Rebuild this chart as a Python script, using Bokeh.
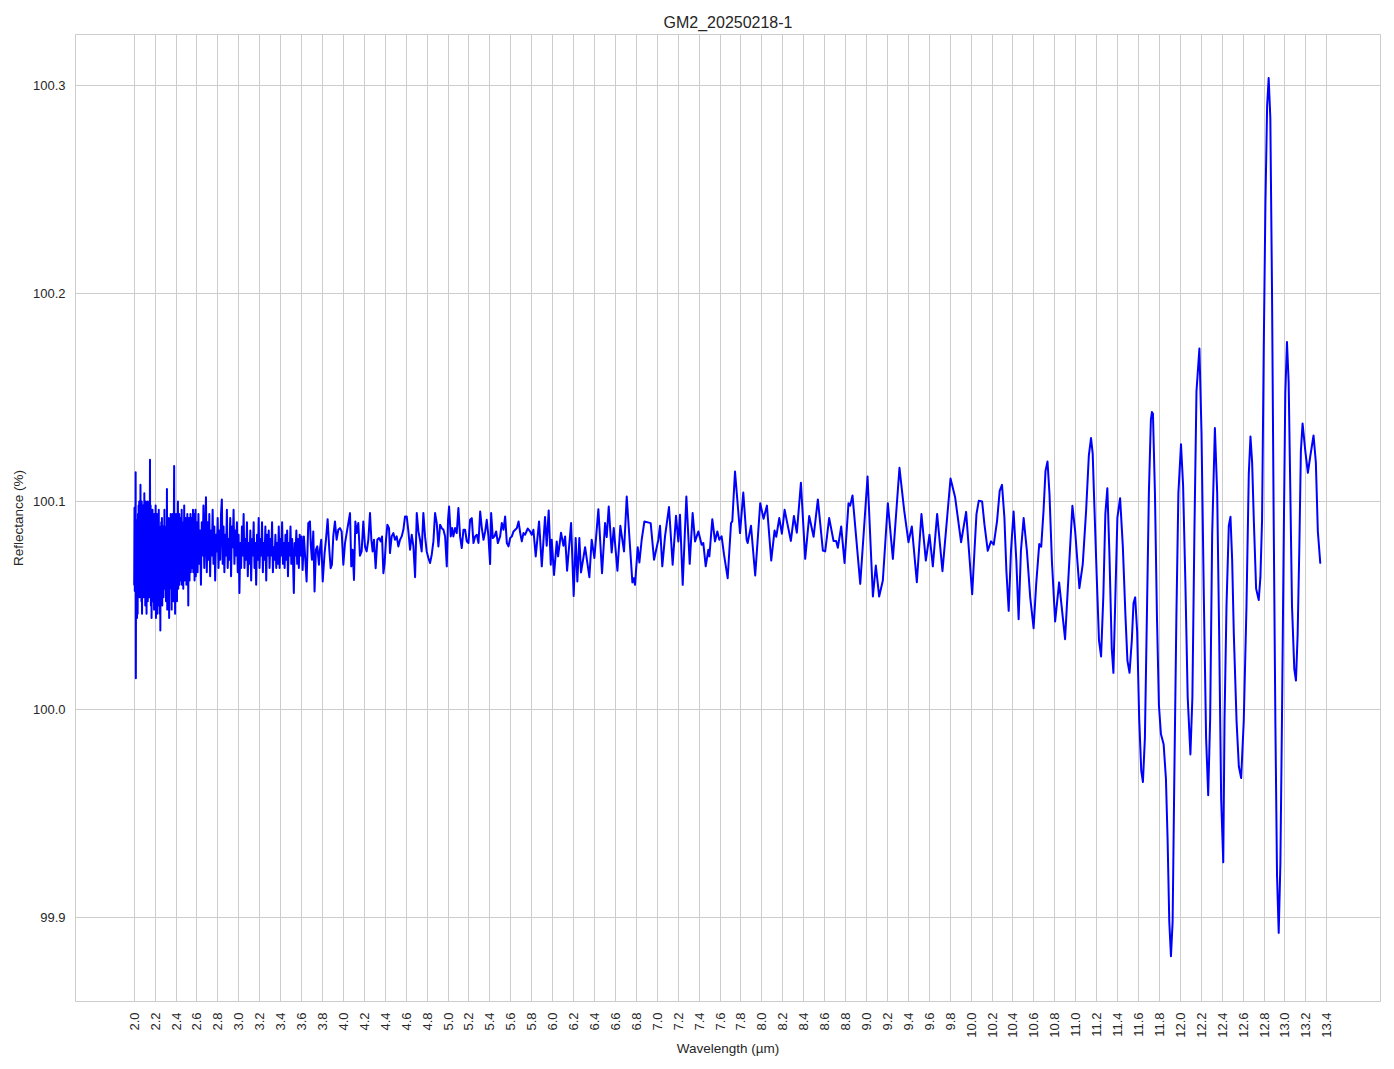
import numpy as np
from bokeh.plotting import figure
from bokeh.models import Range1d, FixedTicker, PrintfTickFormatter
from bokeh.embed import file_html
from bokeh.resources import INLINE

TITLE = "GM2_20250218-1"
X_LABEL = "Wavelength (µm)"
Y_LABEL = "Reflectance (%)"

x_ticks = [2.0, 2.2, 2.4, 2.6, 2.8, 3.0, 3.2, 3.4, 3.6, 3.8, 4.0, 4.2, 4.4, 4.6, 4.8,
           5.0, 5.2, 5.4, 5.6, 5.8, 6.0, 6.2, 6.4, 6.6, 6.8, 7.0, 7.2, 7.4, 7.6, 7.8,
           8.0, 8.2, 8.4, 8.6, 8.8, 9.0, 9.2, 9.4, 9.6, 9.8, 10.0, 10.2, 10.4, 10.6,
           10.8, 11.0, 11.2, 11.4, 11.6, 11.8, 12.0, 12.2, 12.4, 12.6, 12.8, 13.0,
           13.2, 13.4]
y_ticks = [99.9, 100.0, 100.1, 100.2, 100.3]

# --- segment 1: dense noisy start (2.0 - 2.6 um)
wl_1 = [2.000, 2.003, 2.006, 2.009, 2.012, 2.014, 2.016, 2.018, 2.021, 2.024, 2.027, 2.030,
        2.033, 2.036, 2.039, 2.042, 2.045, 2.048, 2.051, 2.054, 2.057, 2.060, 2.063, 2.066,
        2.069, 2.072, 2.075, 2.078, 2.081, 2.085, 2.088, 2.091, 2.094, 2.097, 2.100, 2.103,
        2.106, 2.109, 2.112, 2.115, 2.118, 2.121, 2.124, 2.127, 2.130, 2.133, 2.136, 2.139,
        2.142, 2.145, 2.148, 2.151, 2.154, 2.157, 2.160, 2.163, 2.166, 2.169, 2.172, 2.175,
        2.178, 2.181, 2.184, 2.187, 2.190, 2.193, 2.196, 2.199, 2.202, 2.205, 2.208, 2.211,
        2.214, 2.217, 2.220, 2.223, 2.226, 2.229, 2.232, 2.235, 2.238, 2.241, 2.244, 2.247,
        2.250, 2.253, 2.256, 2.259, 2.262, 2.265, 2.268, 2.271, 2.274, 2.277, 2.280, 2.283,
        2.286, 2.289, 2.292, 2.295, 2.298, 2.301, 2.304, 2.307, 2.310, 2.313, 2.316, 2.319,
        2.322, 2.325, 2.328, 2.331, 2.334, 2.337, 2.340, 2.343, 2.346, 2.349, 2.352, 2.355,
        2.358, 2.361, 2.364, 2.367, 2.370, 2.373, 2.376, 2.379, 2.382, 2.385, 2.388, 2.391,
        2.394, 2.397, 2.400, 2.403, 2.406, 2.409, 2.412, 2.415, 2.418, 2.421, 2.424, 2.427,
        2.430, 2.433, 2.436, 2.439, 2.442, 2.445, 2.448, 2.451, 2.454, 2.457, 2.460, 2.463,
        2.466, 2.469, 2.472, 2.475, 2.478, 2.481, 2.484, 2.487, 2.490, 2.493, 2.496, 2.499,
        2.502, 2.505, 2.508, 2.511, 2.514, 2.517, 2.520, 2.523, 2.526, 2.529, 2.532, 2.535,
        2.538, 2.541, 2.544, 2.547, 2.550, 2.553, 2.556, 2.559, 2.562, 2.565, 2.568, 2.571,
        2.574, 2.577, 2.580, 2.583, 2.586, 2.589, 2.592, 2.595, 2.598]
rf_1 = [100.060, 100.097, 100.057, 100.090, 100.062, 100.114, 100.015, 100.075, 100.058, 100.091, 100.044, 100.080,
        100.046, 100.094, 100.062, 100.098, 100.060, 100.100, 100.054, 100.092, 100.064, 100.108, 100.058, 100.096,
        100.052, 100.100, 100.046, 100.090, 100.060, 100.098, 100.054, 100.092, 100.066, 100.104, 100.056, 100.094,
        100.050, 100.100, 100.060, 100.098, 100.046, 100.090, 100.062, 100.100, 100.052, 100.088, 100.058, 100.096,
        100.054, 100.100, 100.066, 100.120, 100.054, 100.098, 100.050, 100.092, 100.044, 100.088, 100.058, 100.096,
        100.052, 100.090, 100.062, 100.086, 100.048, 100.094, 100.056, 100.090, 100.064, 100.098, 100.044, 100.086,
        100.050, 100.094, 100.046, 100.085, 100.060, 100.092, 100.050, 100.096, 100.054, 100.088, 100.046, 100.084,
        100.038, 100.078, 100.058, 100.090, 100.062, 100.092, 100.050, 100.084, 100.066, 100.088, 100.054, 100.082,
        100.060, 100.096, 100.058, 100.088, 100.064, 100.076, 100.052, 100.084, 100.062, 100.106, 100.048, 100.088,
        100.064, 100.092, 100.060, 100.086, 100.044, 100.082, 100.062, 100.092, 100.066, 100.094, 100.058, 100.080,
        100.048, 100.086, 100.068, 100.094, 100.058, 100.088, 100.052, 100.090, 100.117, 100.062, 100.092, 100.046,
        100.084, 100.060, 100.094, 100.066, 100.090, 100.052, 100.084, 100.064, 100.100, 100.058, 100.088, 100.070,
        100.094, 100.060, 100.086, 100.066, 100.092, 100.062, 100.090, 100.072, 100.096, 100.060, 100.088, 100.068,
        100.084, 100.058, 100.090, 100.070, 100.098, 100.062, 100.086, 100.068, 100.092, 100.066, 100.084, 100.060,
        100.086, 100.072, 100.094, 100.064, 100.080, 100.050, 100.086, 100.068, 100.092, 100.062, 100.088, 100.074,
        100.094, 100.066, 100.086, 100.072, 100.092, 100.068, 100.084, 100.070, 100.096, 100.066, 100.086, 100.072,
        100.094, 100.062, 100.084, 100.070, 100.096, 100.064, 100.082, 100.070, 100.090]

# --- segment 2: 2.6 - 3.6 um
wl_2 = [2.606, 2.614, 2.622, 2.630, 2.638, 2.646, 2.654, 2.662, 2.670, 2.678, 2.686, 2.694,
        2.702, 2.710, 2.718, 2.726, 2.734, 2.742, 2.750, 2.758, 2.766, 2.774, 2.782, 2.790,
        2.798, 2.806, 2.814, 2.822, 2.830, 2.838, 2.846, 2.854, 2.862, 2.870, 2.878, 2.886,
        2.894, 2.902, 2.910, 2.918, 2.926, 2.934, 2.942, 2.950, 2.958, 2.966, 2.974, 2.982,
        2.990, 2.998, 3.006, 3.014, 3.022, 3.030, 3.038, 3.046, 3.054, 3.062, 3.070, 3.078,
        3.086, 3.094, 3.102, 3.110, 3.118, 3.126, 3.134, 3.142, 3.150, 3.158, 3.166, 3.174,
        3.182, 3.190, 3.198, 3.206, 3.214, 3.222, 3.230, 3.238, 3.246, 3.254, 3.262, 3.270,
        3.278, 3.286, 3.294, 3.302, 3.310, 3.318, 3.326, 3.334, 3.342, 3.350, 3.358, 3.366,
        3.374, 3.382, 3.390, 3.398, 3.406, 3.414, 3.422, 3.430, 3.438, 3.446, 3.454, 3.462,
        3.470, 3.478, 3.486, 3.494, 3.502, 3.510, 3.518, 3.526, 3.534, 3.542, 3.550, 3.558,
        3.566, 3.574, 3.582, 3.590]
rf_2 = [100.066, 100.094, 100.070, 100.086, 100.060, 100.090, 100.074, 100.098, 100.068, 100.084, 100.102, 100.066,
        100.090, 100.072, 100.094, 100.064, 100.086, 100.074, 100.096, 100.070, 100.088, 100.062, 100.084, 100.076,
        100.092, 100.068, 100.086, 100.072, 100.094, 100.101, 100.070, 100.088, 100.066, 100.084, 100.074, 100.096,
        100.068, 100.082, 100.072, 100.092, 100.064, 100.088, 100.078, 100.096, 100.070, 100.086, 100.074, 100.090,
        100.066, 100.084, 100.056, 100.080, 100.068, 100.088, 100.074, 100.094, 100.068, 100.082, 100.072, 100.090,
        100.064, 100.080, 100.070, 100.086, 100.062, 100.082, 100.074, 100.090, 100.068, 100.080, 100.060, 100.084,
        100.072, 100.092, 100.068, 100.082, 100.074, 100.090, 100.066, 100.080, 100.072, 100.088, 100.062, 100.084,
        100.074, 100.086, 100.068, 100.082, 100.074, 100.090, 100.066, 100.078, 100.072, 100.084, 100.068, 100.080,
        100.070, 100.088, 100.068, 100.082, 100.074, 100.090, 100.070, 100.080, 100.068, 100.084, 100.072, 100.086,
        100.064, 100.080, 100.074, 100.088, 100.070, 100.082, 100.072, 100.056, 100.080, 100.074, 100.086, 100.070,
        100.082, 100.068, 100.084, 100.074]

# --- segment 3: 3.6 - 5.73 um
wl_3 = [3.600, 3.610, 3.622, 3.632, 3.648, 3.664, 3.680, 3.689, 3.699, 3.712, 3.724, 3.737,
        3.750, 3.766, 3.775, 3.788, 3.802, 3.820, 3.833, 3.849, 3.865, 3.878, 3.890, 3.903,
        3.919, 3.935, 3.951, 3.967, 3.983, 3.999, 4.015, 4.031, 4.047, 4.063, 4.075, 4.088,
        4.101, 4.114, 4.126, 4.142, 4.158, 4.174, 4.190, 4.206, 4.222, 4.238, 4.254, 4.267,
        4.279, 4.292, 4.308, 4.324, 4.340, 4.356, 4.369, 4.382, 4.394, 4.407, 4.420, 4.436,
        4.445, 4.461, 4.477, 4.493, 4.509, 4.525, 4.541, 4.557, 4.573, 4.589, 4.605, 4.621,
        4.637, 4.653, 4.669, 4.685, 4.701, 4.717, 4.732, 4.748, 4.764, 4.780, 4.796, 4.812,
        4.828, 4.844, 4.860, 4.876, 4.892, 4.908, 4.924, 4.940, 4.956, 4.972, 4.988, 5.000,
        5.010, 5.026, 5.039, 5.051, 5.067, 5.083, 5.099, 5.115, 5.131, 5.147, 5.163, 5.179,
        5.195, 5.211, 5.227, 5.243, 5.259, 5.275, 5.291, 5.307, 5.323, 5.339, 5.355, 5.370,
        5.386, 5.402, 5.412, 5.428, 5.444, 5.460, 5.476, 5.498, 5.514, 5.530, 5.546, 5.562,
        5.578, 5.594, 5.610, 5.626, 5.642, 5.658, 5.674, 5.690, 5.705, 5.721]
rf_3 = [100.0832, 100.0671, 100.0832, 100.0752, 100.0615, 100.0896, 100.0904, 100.0784, 100.0720, 100.0856, 100.0567, 100.0768,
        100.0784, 100.0696, 100.0768, 100.0816, 100.0615, 100.0752, 100.0816, 100.0915, 100.0768, 100.0679, 100.0696, 100.0832,
        100.0904, 100.0816, 100.0864, 100.0872, 100.0856, 100.0696, 100.0800, 100.0848, 100.0896, 100.0944, 100.0688, 100.0768,
        100.0623, 100.0904, 100.0848, 100.0896, 100.0739, 100.0760, 100.0904, 100.0784, 100.0760, 100.0816, 100.0944, 100.0816,
        100.0760, 100.0816, 100.0679, 100.0816, 100.0824, 100.0808, 100.0832, 100.0655, 100.0704, 100.0816, 100.0888, 100.0872,
        100.0752, 100.0832, 100.0848, 100.0816, 100.0832, 100.0784, 100.0816, 100.0832, 100.0864, 100.0928, 100.0928, 100.0856,
        100.0768, 100.0840, 100.0784, 100.0636, 100.0944, 100.0856, 100.0816, 100.0760, 100.0944, 100.0832, 100.0760, 100.0728,
        100.0704, 100.0744, 100.0808, 100.0944, 100.0896, 100.0784, 100.0888, 100.0872, 100.0864, 100.0832, 100.0688, 100.0912,
        100.0976, 100.0832, 100.0872, 100.0832, 100.0872, 100.0848, 100.0968, 100.0832, 100.0776, 100.0864, 100.0864, 100.0808,
        100.0800, 100.0912, 100.0920, 100.0800, 100.0832, 100.0840, 100.0800, 100.0952, 100.0872, 100.0816, 100.0856, 100.0912,
        100.0832, 100.0699, 100.0944, 100.0824, 100.0832, 100.0856, 100.0800, 100.0832, 100.0896, 100.0864, 100.0928, 100.0800,
        100.0784, 100.0824, 100.0832, 100.0856, 100.0864, 100.0872, 100.0904, 100.0848, 100.0808, 100.0848]

# --- segment 4: 5.73 - 7.93 um
wl_4 = [5.736, 5.762, 5.784, 5.800, 5.816, 5.838, 5.870, 5.896, 5.927, 5.943, 5.962, 5.982,
        5.991, 6.013, 6.039, 6.052, 6.080, 6.103, 6.119, 6.138, 6.176, 6.201, 6.220, 6.236,
        6.255, 6.271, 6.310, 6.351, 6.373, 6.399, 6.437, 6.472, 6.501, 6.517, 6.536, 6.564,
        6.584, 6.619, 6.647, 6.682, 6.708, 6.762, 6.775, 6.787, 6.813, 6.829, 6.851, 6.877,
        6.937, 6.969, 7.010, 7.026, 7.048, 7.074, 7.112, 7.147, 7.179, 7.201, 7.217, 7.243,
        7.278, 7.310, 7.338, 7.361, 7.393, 7.424, 7.440, 7.463, 7.488, 7.498, 7.526, 7.552,
        7.574, 7.593, 7.615, 7.638, 7.673, 7.705, 7.717, 7.743, 7.791, 7.822, 7.854, 7.864,
        7.896]
rf_4 = [100.0840, 100.0870, 100.0856, 100.0840, 100.0864, 100.0736, 100.0904, 100.0688, 100.0925, 100.0787, 100.0957, 100.0696,
        100.0816, 100.0647, 100.0808, 100.0736, 100.0850, 100.0787, 100.0832, 100.0667, 100.0896, 100.0546, 100.0824, 100.0615,
        100.0824, 100.0659, 100.0780, 100.0636, 100.0816, 100.0728, 100.0963, 100.0655, 100.0896, 100.0829, 100.0976, 100.0755,
        100.0872, 100.0667, 100.0883, 100.0760, 100.1024, 100.0611, 100.0631, 100.0599, 100.0780, 100.0707, 100.0816, 100.0904,
        100.0896, 100.0720, 100.0816, 100.0883, 100.0688, 100.0832, 100.0973, 100.0696, 100.0931, 100.0808, 100.0936, 100.0599,
        100.1024, 100.0700, 100.0944, 100.0808, 100.0856, 100.0792, 100.0800, 100.0688, 100.0768, 100.0736, 100.0915, 100.0808,
        100.0856, 100.0816, 100.0832, 100.0744, 100.0631, 100.0896, 100.0904, 100.1144, 100.0848, 100.1043, 100.0816, 100.0800,
        100.0883]

# --- segment 5: 7.93 - 10.0 um
wl_5 = [7.936, 7.984, 8.016, 8.048, 8.089, 8.121, 8.137, 8.166, 8.191, 8.217, 8.245, 8.277,
        8.306, 8.334, 8.373, 8.414, 8.452, 8.494, 8.535, 8.583, 8.605, 8.643, 8.685, 8.710,
        8.726, 8.758, 8.790, 8.828, 8.844, 8.866, 8.940, 9.010, 9.061, 9.089, 9.121, 9.156,
        9.204, 9.252, 9.315, 9.360, 9.401, 9.433, 9.481, 9.525, 9.567, 9.602, 9.634, 9.675,
        9.726, 9.803, 9.847, 9.904, 9.952]
rf_5 = [100.0644, 100.0992, 100.0917, 100.0980, 100.0716, 100.0860, 100.0830, 100.0920, 100.0845, 100.0960, 100.0890, 100.0810,
        100.0930, 100.0850, 100.1090, 100.0724, 100.0930, 100.0830, 100.1010, 100.0764, 100.0760, 100.0920, 100.0810, 100.0810,
        100.0777, 100.0880, 100.0704, 100.0992, 100.0980, 100.1029, 100.0604, 100.1120, 100.0543, 100.0692, 100.0543, 100.0620,
        100.0992, 100.0724, 100.1162, 100.0957, 100.0804, 100.0880, 100.0612, 100.0940, 100.0716, 100.0840, 100.0688, 100.0940,
        100.0665, 100.1110, 100.1020, 100.0804, 100.0950]

# --- segment 6: 10.0 - 11.1 um
wl_6 = [10.010, 10.032, 10.051, 10.073, 10.105, 10.127, 10.159, 10.190, 10.216, 10.248, 10.273, 10.295,
        10.318, 10.337, 10.359, 10.381, 10.406, 10.432, 10.454, 10.476, 10.502, 10.533, 10.565, 10.597,
        10.622, 10.651, 10.670, 10.692, 10.711, 10.730, 10.749, 10.772, 10.803, 10.841, 10.898, 10.930,
        10.968, 10.994, 11.035, 11.067, 11.099]
rf_6 = [100.0554, 100.0763, 100.0939, 100.1003, 100.1000, 100.0891, 100.0763, 100.0808, 100.0792, 100.0907, 100.1051, 100.1080,
        100.0923, 100.0667, 100.0474, 100.0763, 100.0952, 100.0715, 100.0434, 100.0763, 100.0920, 100.0763, 100.0538, 100.0391,
        100.0603, 100.0795, 100.0782, 100.0955, 100.1147, 100.1192, 100.1035, 100.0715, 100.0423, 100.0611, 100.0338, 100.0635,
        100.0979, 100.0859, 100.0583, 100.0699, 100.0955]

# --- segment 7: 11.1 - 13.34 um (large oscillations)
wl_7 = [11.125, 11.146, 11.162, 11.174, 11.200, 11.222, 11.242, 11.264, 11.283, 11.302, 11.322, 11.344,
        11.360, 11.379, 11.398, 11.424, 11.450, 11.475, 11.494, 11.514, 11.536, 11.552, 11.568, 11.587,
        11.606, 11.626, 11.642, 11.661, 11.680, 11.699, 11.718, 11.728, 11.738, 11.757, 11.776, 11.795,
        11.814, 11.840, 11.862, 11.878, 11.894, 11.910, 11.926, 11.942, 11.962, 11.981, 12.006, 12.026,
        12.048, 12.070, 12.096, 12.115, 12.134, 12.154, 12.182, 12.202, 12.224, 12.246, 12.266, 12.285,
        12.304, 12.330, 12.352, 12.371, 12.390, 12.410, 12.422, 12.441, 12.463, 12.479, 12.495, 12.511,
        12.537, 12.559, 12.581, 12.606, 12.632, 12.654, 12.670, 12.686, 12.702, 12.724, 12.749, 12.765,
        12.781, 12.797, 12.813, 12.829, 12.844, 12.860, 12.876, 12.892, 12.908, 12.924, 12.940, 12.956,
        12.971, 12.987, 13.003, 13.019, 13.035, 13.051, 13.067, 13.089, 13.105, 13.121, 13.137, 13.152,
        13.168, 13.194, 13.219, 13.241, 13.273, 13.295, 13.314, 13.337]
rf_7 = [100.1220, 100.1305, 100.1230, 100.1039, 100.0647, 100.0333, 100.0255, 100.0549, 100.0941, 100.1063, 100.0745, 100.0294,
        100.0176, 100.0549, 100.0922, 100.1016, 100.0784, 100.0451, 100.0235, 100.0176, 100.0333, 100.0510, 100.0539, 100.0373,
        99.9961, 99.9706, 99.9651, 99.9863, 100.0451, 100.1039, 100.1392, 100.1430, 100.1422, 100.1039, 100.0451, 100.0020,
        99.9882, 99.9833, 99.9667, 99.9373, 99.8980, 99.8814, 99.8980, 99.9667, 100.0451, 100.1039, 100.1275, 100.1078,
        100.0608, 100.0059, 99.9784, 100.0059, 100.0843, 100.1529, 100.1735, 100.1333, 100.0549, 99.9863, 99.9588, 99.9961,
        100.0843, 100.1353, 100.1039, 100.0353, 99.9569, 99.9265, 99.9946, 100.0498, 100.0884, 100.0926, 100.0719, 100.0360,
        99.9946, 99.9726, 99.9670, 99.9946, 100.0498, 100.1132, 100.1312, 100.1188, 100.0912, 100.0581, 100.0526, 100.0636,
        100.0912, 100.1739, 100.2429, 100.2898, 100.3036, 100.2843, 100.2015, 100.0912, 99.9946, 99.9201, 99.8926, 99.9257,
        99.9946, 100.0774, 100.1519, 100.1767, 100.1574, 100.1050, 100.0498, 100.0194, 100.0139, 100.0360, 100.0774, 100.1243,
        100.1375, 100.1243, 100.1138, 100.1215, 100.1317, 100.1188, 100.0857, 100.0705]

wavelength = np.concatenate([wl_1, wl_2, wl_3, wl_4, wl_5, wl_6, wl_7])
reflectance = np.concatenate([rf_1, rf_2, rf_3, rf_4, rf_5, rf_6, rf_7])

FONT = "Liberation Sans"
TXT = "#262626"
GRID = "#cccccc"

p = figure(width=1394, height=1069, output_backend="svg", toolbar_location=None,
           x_range=Range1d(1.439, 13.913), y_range=Range1d(99.8596, 100.3245),
           min_border_left=75, min_border_right=14, min_border_top=34, min_border_bottom=68,
           title=TITLE)

p.line(wavelength, reflectance, line_color="#0000ff", line_width=2,
       line_join="round", line_cap="round")

p.title.align = "center"
p.title.text_font = FONT
p.title.text_font_size = "16px"
p.title.text_font_style = "normal"
p.title.text_color = TXT
p.title.standoff = 8

p.xaxis.ticker = FixedTicker(ticks=x_ticks)
p.yaxis.ticker = FixedTicker(ticks=y_ticks)
p.xaxis.formatter = PrintfTickFormatter(format="%.1f")
p.yaxis.formatter = PrintfTickFormatter(format="%.1f")
p.xaxis.major_label_orientation = np.pi / 2
p.xaxis.axis_label = X_LABEL
p.yaxis.axis_label = Y_LABEL

for ax in (p.xaxis, p.yaxis):
    ax.major_label_text_font = FONT
    ax.major_label_text_font_size = "13px"
    ax.major_label_text_color = TXT
    ax.axis_label_text_font = FONT
    ax.axis_label_text_font_size = "13.5px"
    ax.axis_label_text_font_style = "normal"
    ax.axis_label_text_color = TXT
    ax.axis_line_color = None
    ax.major_tick_line_color = None
    ax.minor_tick_line_color = None
    ax.major_tick_out = 0
    ax.major_tick_in = 0
    ax.minor_tick_out = 0
    ax.minor_tick_in = 0
p.xaxis.major_label_standoff = 11
p.xaxis.axis_label_standoff = 0
p.yaxis.major_label_standoff = 10
p.yaxis.axis_label_standoff = 4

p.xgrid.ticker = FixedTicker(ticks=x_ticks)
p.ygrid.ticker = FixedTicker(ticks=y_ticks)
p.grid.grid_line_color = GRID
p.grid.grid_line_width = 1
p.outline_line_color = GRID
p.outline_line_width = 1
p.background_fill_color = "white"
p.border_fill_color = "white"

open("out.html", "w").write(file_html(p, INLINE))
